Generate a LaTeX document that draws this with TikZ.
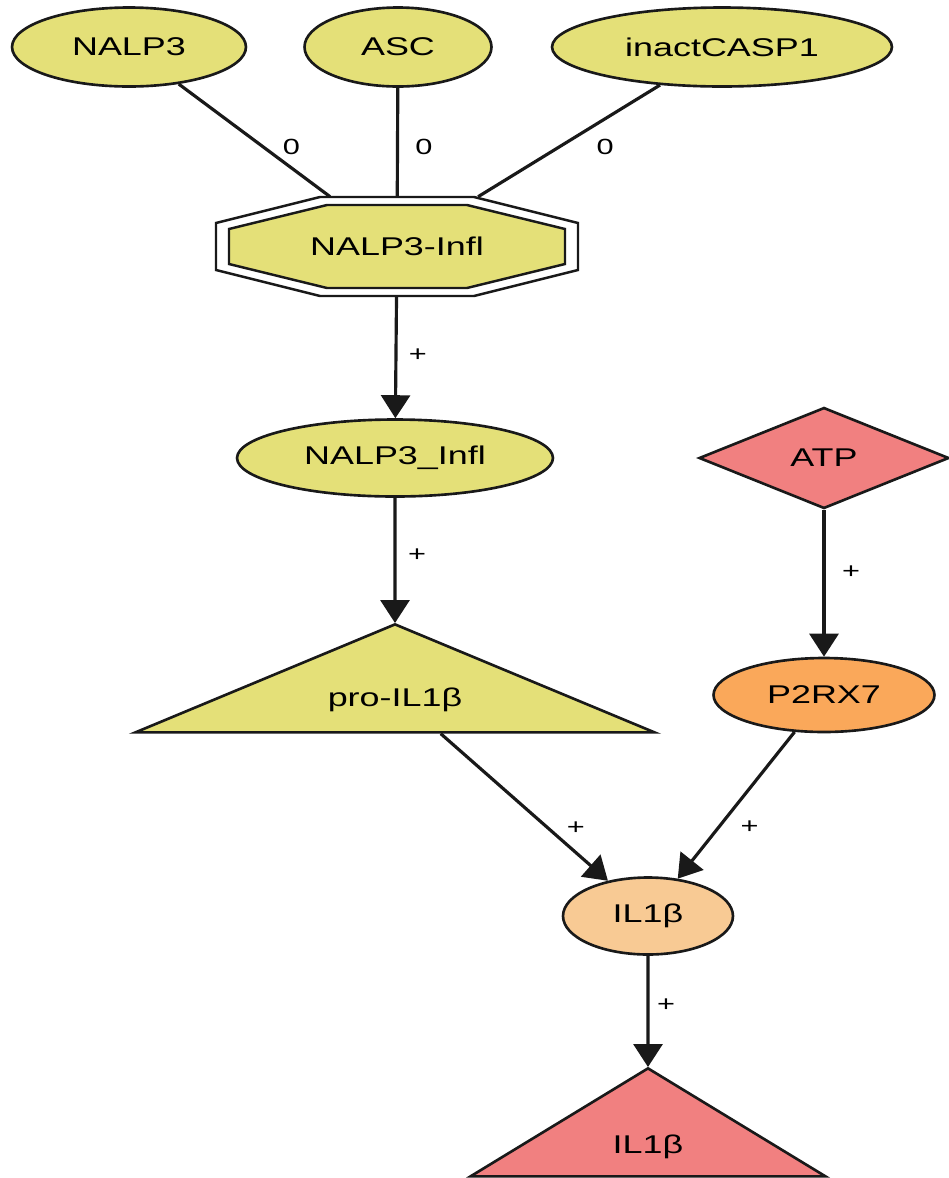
\documentclass[tikz,border=0pt]{standalone}
\usepackage{fontspec}
\newfontfamily\netfont[FakeStretch=1.4]{Liberation Sans}
\usetikzlibrary{shapes.geometric, arrows.meta}
\definecolor{cplxfill}{RGB}{228,224,120}
\definecolor{stimfill}{RGB}{241,128,128}
\definecolor{recfill}{RGB}{250,168,90}
\definecolor{cytofill}{RGB}{248,202,148}
\definecolor{edgeline}{RGB}{25,25,25}
\newcommand{\octpath}[4]{(-#3,-#2) -- (#3,-#2) -- (#1,-#4) -- (#1,#4) -- (#3,#2) -- (-#3,#2) -- (-#1,#4) -- (-#1,-#4) -- cycle}
\tikzset{
    species/.style={
        ellipse, draw=edgeline, line width=1.5pt, fill=cplxfill, inner sep=0pt,
        minimum height=1.58cm, font=\netfont\fontsize{14.6}{17}\selectfont
    },
    receptor/.style={species, fill=recfill},
    cytokine/.style={species, fill=cytofill},
    stimulus/.style={
        diamond, draw=edgeline, line width=1.5pt, fill=stimfill, inner sep=0pt,
        font=\netfont\fontsize{14.6}{17}\selectfont
    },
    product/.style={
        isosceles triangle, isosceles triangle stretches, isosceles triangle apex angle=150,
        shape border rotate=90, draw=edgeline, line width=1.5pt, inner sep=0pt,
        text depth=0pt, font=\netfont\fontsize{14.6}{17}\selectfont
    },
    complexbox/.style={rectangle, inner sep=0pt, font=\netfont\fontsize{14.6}{17}\selectfont},
    octline/.style={draw=edgeline, line width=1.4pt},
    binding/.style={draw=edgeline, line width=1.8pt},
    activation/.style={binding, -{Triangle[length=0.46cm, width=0.58cm]}},
    elabel/.style={font=\netfont\fontsize{12.5}{14}\selectfont, inner sep=0pt}
}

\begin{document}
\begin{tikzpicture}[x=0.02cm, y=-0.02cm]
\useasboundingbox (0,0) rectangle (948,1178);

% Top: inflammasome members
\node[species, minimum width=4.68cm] (nalp) at (129,47) {NALP3};
\node[species, minimum width=3.74cm] (asc) at (398,47) {ASC};
\node[species, minimum width=6.8cm] (casp) at (722,47) {inactCASP1};

% Complex (double octagon)
\coordinate (inflc) at (397,246.5);
\begin{scope}[shift={(inflc)}]
\draw[octline, fill=white] \octpath{181}{49.5}{77}{23.5};
\draw[octline, fill=cplxfill] \octpath{168}{41.5}{70}{17.5};
\end{scope}
\node[complexbox, minimum width=7.24cm, minimum height=1.98cm] (infl) at (inflc) {NALP3-Infl};

% Middle
\node[species, minimum width=6.32cm, minimum height=1.54cm] (inflb) at (395,458) {NALP3\_Infl};
\node[stimulus, minimum width=5cm, minimum height=2.02cm] (atp) at (824,458) {ATP};
\node[receptor, minimum width=4.42cm, minimum height=1.48cm] (p2rx7) at (824,695) {P2RX7};
\node[product, fill=cplxfill, minimum width=10.38cm, minimum height=2.16cm, text height=14.5pt, anchor=apex] (pro) at (395,623) {pro-IL1β};

% Bottom
\node[cytokine, minimum width=3.4cm, minimum height=1.54cm] (il1b) at (648,916) {IL1β};
\node[product, fill=stimfill, minimum width=7.1cm, minimum height=2.16cm, text height=21pt, anchor=apex] (il1bt) at (648,1067) {IL1β};

% Binding
\draw[binding] (nalp) -- node[elabel, xshift=0.74cm, yshift=-0.14cm] {0} (infl);
\draw[binding] (asc) -- node[elabel, xshift=0.53cm, yshift=-0.1cm] {0} (infl);
\draw[binding] (casp) -- node[elabel, xshift=0.72cm, yshift=-0.13cm] {0} (infl);

% Activation
\draw[activation] (infl) -- node[elabel, xshift=0.44cm, yshift=0.04cm] {+} (inflb);
\draw[activation] (inflb) -- node[elabel, xshift=0.44cm, yshift=0.1cm] {+} (pro);
\draw[activation] (atp) -- node[elabel, xshift=0.54cm, yshift=0.22cm] {+} (p2rx7);
\draw[activation] (pro) -- node[elabel, pos=0.64, xshift=0.56cm] {+} (il1b);
\draw[activation] (p2rx7) -- node[elabel, pos=0.65, xshift=0.62cm] {+} (il1b);
\draw[activation] (il1b) -- node[elabel, xshift=0.36cm, yshift=0.12cm] {+} (il1bt);

\end{tikzpicture}
\end{document}
